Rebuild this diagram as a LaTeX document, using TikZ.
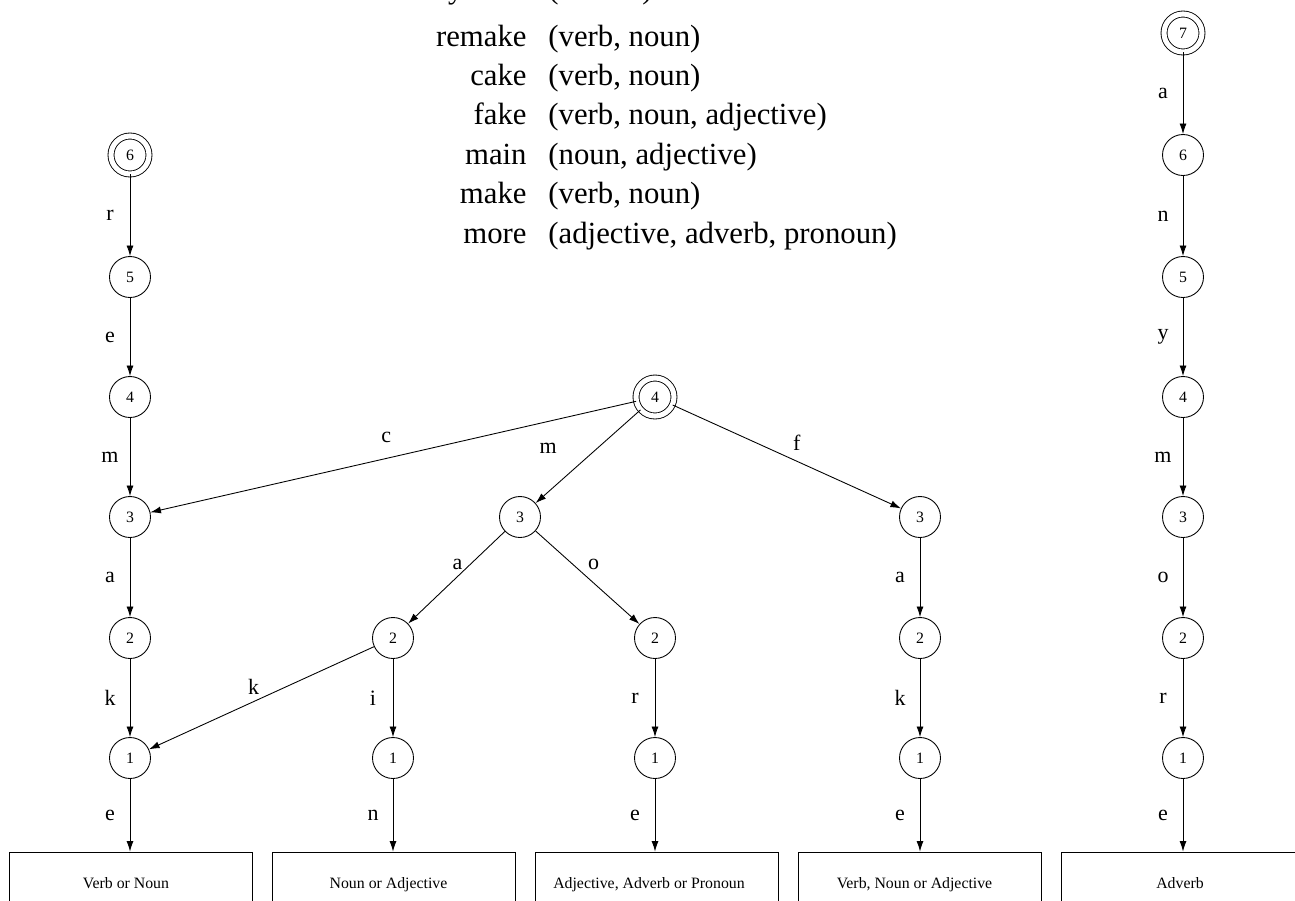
\documentclass[tikz,border=0pt]{standalone}
\usepackage{fontspec}
\setmainfont{Liberation Serif}
\usetikzlibrary{arrows.meta}

\begin{document}
\begin{tikzpicture}[x=0.02cm,y=-0.02cm,>={Latex[length=6pt,width=4pt]},line width=0.5pt,
  st/.style={draw,circle,minimum size=0.82cm,inner sep=0pt,font=\fontsize{9}{10}\selectfont},
  fin/.style={st,double,double distance=2.9pt,minimum size=0.76cm},
  outbox/.style={draw,minimum width=4.86cm,minimum height=1.28cm,inner sep=0pt,
    text height=1.6ex,text depth=0.4ex,font=\fontsize{9}{10}\selectfont},
  lab/.style={font=\fontsize{12.5}{14}\selectfont,inner sep=0pt},
  vl/.style={lab,midway,xshift=-0.4cm},
  big/.style={font=\fontsize{17.5}{21}\selectfont,inner sep=0pt}]
\useasboundingbox (0,0) rectangle (1295,900);

% word list
\node[big,anchor=mid east] (w0) at (527,-6) {anymore};
\node[big,anchor=mid west] (p0) at (548,-6) {(adverb)};
\node[big,anchor=mid east] (w1) at (527,42) {remake};
\node[big,anchor=mid west] (p1) at (548,42) {(verb, noun)};
\node[big,anchor=mid east] (w2) at (527,81.4) {cake};
\node[big,anchor=mid west] (p2) at (548,81.4) {(verb, noun)};
\node[big,anchor=mid east] (w3) at (527,120.8) {fake};
\node[big,anchor=mid west] (p3) at (548,120.8) {(verb, noun, adjective)};
\node[big,anchor=mid east] (w4) at (527,160.2) {main};
\node[big,anchor=mid west] (p4) at (548,160.2) {(noun, adjective)};
\node[big,anchor=mid east] (w5) at (527,199.6) {make};
\node[big,anchor=mid west] (p5) at (548,199.6) {(verb, noun)};
\node[big,anchor=mid east] (w6) at (527,239) {more};
\node[big,anchor=mid west] (p6) at (548,239) {(adjective, adverb, pronoun)};

% left tree
\node[fin] (l6) at (130,155) {6};
\node[st] (l5) at (130,277) {5};
\node[st] (l4) at (130,397) {4};
\node[st] (l3) at (130,517) {3};
\node[st] (l2) at (130,638) {2};
\node[st] (l1) at (130,758) {1};

% middle tree
\node[fin] (m4) at (655,397) {4};
\node[st] (m3) at (520,517) {3};
\node[st] (f3) at (920,517) {3};
\node[st] (a2) at (393,638) {2};
\node[st] (o2) at (655,638) {2};
\node[st] (f2) at (920,638) {2};
\node[st] (i1) at (393,758) {1};
\node[st] (r1) at (655,758) {1};
\node[st] (f1) at (920,758) {1};

% right tree
\node[fin] (y7) at (1183,33) {7};
\node[st] (y6) at (1183,155) {6};
\node[st] (y5) at (1183,277) {5};
\node[st] (y4) at (1183,397) {4};
\node[st] (y3) at (1183,517) {3};
\node[st] (y2) at (1183,638) {2};
\node[st] (y1) at (1183,758) {1};

% outputs
\node[outbox] (b1) at (131,884) {Verb or Noun\hspace*{0.2cm}};
\node[outbox] (b2) at (393.5,884) {Noun or Adjective\hspace*{0.2cm}};
\node[outbox] (b3) at (656.5,884) {Adjective, Adverb or Pronoun\hspace*{0.3cm}};
\node[outbox] (b4) at (919.5,884) {Verb, Noun or Adjective\hspace*{0.2cm}};
\node[outbox] (b5) at (1182.5,884) {Adverb\hspace*{0.1cm}};

\draw[->] (l6) -- node[vl] {r} (l5);
\draw[->] (l5) -- node[vl] {e} (l4);
\draw[->] (l4) -- node[vl] {m} (l3);
\draw[->] (l3) -- node[vl] {a} (l2);
\draw[->] (l2) -- node[vl] {k} (l1);
\draw[->] (l1) -- node[vl] {e} (l1 |- b1.north);

\draw[->] (m4) -- node[lab,midway,xshift=-0.14cm,yshift=0.38cm] {c} (l3);
\draw[->] (m4) -- node[lab,midway,xshift=-0.8cm,yshift=0.16cm] {m} (m3);
\draw[->] (m4) -- node[lab,midway,xshift=0.2cm,yshift=0.28cm] {f} (f3);
\draw[->] (m3) -- node[lab,midway,xshift=0.02cm,yshift=0.26cm] {a} (a2);
\draw[->] (m3) -- node[lab,midway,xshift=0.12cm,yshift=0.26cm] {o} (o2);
\draw[->] (a2) -- node[lab,midway,xshift=-0.16cm,yshift=0.22cm] {k} (l1);
\draw[->] (a2) -- node[vl] {i} (i1);
\draw[->] (i1) -- node[vl] {n} (i1 |- b2.north);
\draw[->] (o2) -- node[vl] {r} (r1);
\draw[->] (r1) -- node[vl] {e} (r1 |- b3.north);
\draw[->] (f3) -- node[vl] {a} (f2);
\draw[->] (f2) -- node[vl] {k} (f1);
\draw[->] (f1) -- node[vl] {e} (f1 |- b4.north);

\draw[->] (y7) -- node[vl] {a} (y6);
\draw[->] (y6) -- node[vl] {n} (y5);
\draw[->] (y5) -- node[vl] {y} (y4);
\draw[->] (y4) -- node[vl] {m} (y3);
\draw[->] (y3) -- node[vl] {o} (y2);
\draw[->] (y2) -- node[vl] {r} (y1);
\draw[->] (y1) -- node[vl] {e} (y1 |- b5.north);
\end{tikzpicture}
\end{document}
